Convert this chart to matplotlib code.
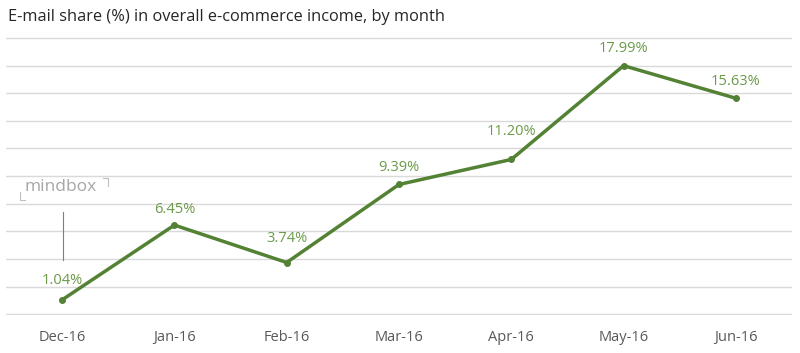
import matplotlib.pyplot as plt

months = ['Dec-16', 'Jan-16', 'Feb-16', 'Mar-16', 'Apr-16', 'May-16', 'Jun-16']
email_share = [1.04, 6.45, 3.74, 9.39, 11.20, 17.99, 15.63]

LINE = '#548235'
LABEL = '#6b9a48'
TICK = '#595959'
GRID = '#d9d9d9'

plt.rcParams['font.family'] = ['Open Sans', 'DejaVu Sans']

fig = plt.figure(figsize=(8, 3.53), dpi=100)
ax = fig.add_axes([0.0075, 0.1076, 0.9825, 0.7874])

x = list(range(len(months)))
ax.plot(x, email_share, color=LINE, linewidth=2.5, marker='o', markersize=4,
        solid_joinstyle='round', zorder=3)

# label offsets in points (label centre above each marker)
offsets = [14, 11.5, 17, 12, 20, 12, 12]
for xi, v, off in zip(x, email_share, offsets):
    ax.annotate(f'{v:.2f}%', (xi, v), xytext=(0, off), textcoords='offset points',
                ha='center', va='center', fontsize=10.5, color=LABEL)

ax.set_xlim(-0.5, len(months) - 0.5)
ax.set_ylim(-0.06, 20.06)
ax.set_yticks(range(0, 21, 2))
ax.set_yticklabels([])
ax.set_xticks(x)
ax.set_xticklabels(months, fontsize=10.5, color=TICK)
ax.tick_params(axis='both', length=0, pad=11)
ax.grid(True, axis='y', color=GRID, linewidth=1)
for s in ax.spines.values():
    s.set_visible(False)

fig.text(0.01, 0.952, 'E-mail share (%) in overall e-commerce income, by month',
         fontsize=11.8, color='#262626', ha='left', va='center')

# mindbox watermark
fig.text(0.030, 0.470, 'mindbox', fontsize=12.5, color='#a6a6a6', ha='left', va='center')
fig.add_artist(plt.Line2D([0.025, 0.025, 0.031], [0.456, 0.434, 0.434], color='#bfbfbf', lw=0.8))
fig.add_artist(plt.Line2D([0.129, 0.135, 0.135], [0.496, 0.496, 0.474], color='#bfbfbf', lw=0.8))
fig.add_artist(plt.Line2D([0.079, 0.079], [0.40, 0.263], color='#7f7f7f', lw=0.8))

fig.savefig('out.png', dpi=100, facecolor='white')
